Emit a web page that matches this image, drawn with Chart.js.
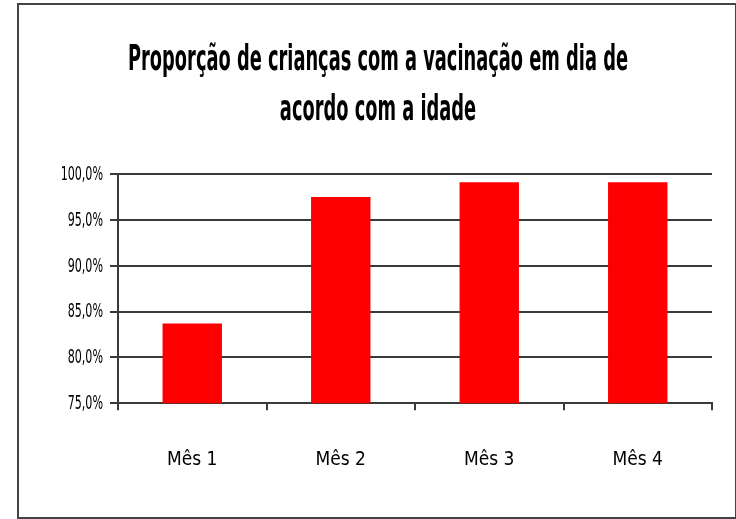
<!DOCTYPE html>
<html>
<head>
<meta charset="utf-8">
<script src="https://cdn.jsdelivr.net/npm/chart.js@4"></script>
<style>
  html, body { margin: 0; padding: 0; background: #fff; }
  #frame {
    position: absolute; left: 17px; top: 3px;
    width: 716px; height: 512px;
    border: 2px solid #444;
  }
  #myChart { display: block; }
</style>
</head>
<body>
<div id="frame"><canvas id="myChart" width="716" height="512"></canvas></div>
<script>
const months = ["Mês 1", "Mês 2", "Mês 3", "Mês 4"];
const vaccinated = [83.7, 97.5, 99.1, 99.1];
const titleLines = ["Proporção de crianças com a vacinação em dia de", "acordo com a idade"];
const yMin = 75, yMax = 100, yStep = 5;

const fontFamily = "'Liberation Sans Narrow', 'DejaVu Sans Condensed', 'Liberation Sans', sans-serif";

function pct(value) {
    return value.toFixed(1).replace('.', ',') + '%';
}

// the original uses a very condensed face, so title and y labels get squeezed sideways
const condensedText = {
    id: 'condensedText',
    afterDraw: function(chart) {
        const c = chart.ctx;
        c.save();
        c.fillStyle = "#000";
        c.textAlign = "center";
        c.textBaseline = "alphabetic";
        c.font = "bold 36px " + fontFamily;
        let sx = 0.55;
        c.scale(sx, 1);
        for (let i = 0; i < titleLines.length; i++) {
            c.fillText(titleLines[i], (chart.width / 2 + 1) / sx, 65 + i * 50);
        }
        c.restore();

        const yScale = chart.scales.y;
        c.save();
        c.fillStyle = "#000";
        c.textAlign = "right";
        c.textBaseline = "middle";
        c.font = "19px " + fontFamily;
        sx = 0.65;
        c.scale(sx, 1);
        yScale.ticks.forEach(function(t) {
            c.fillText(pct(t.value), (yScale.right - 15) / sx, yScale.getPixelForValue(t.value) + 1);
        });
        c.restore();
    }
};

const ctx = document.getElementById("myChart");
new Chart(ctx, {
    type: 'bar',
    data: {
        labels: months,
        datasets: [{
            data: vaccinated,
            backgroundColor: "#ff0000",
            borderWidth: 0,
            categoryPercentage: 1,
            barPercentage: 0.4
        }]
    },
    options: {
        responsive: false,
        animation: false,
        layout: { padding: { left: 0, right: 23, top: 169, bottom: 8 } },
        plugins: {
            legend: { display: false },
            tooltip: { enabled: false },
            title: { display: false }
        },
        scales: {
            y: {
                min: yMin,
                max: yMax,
                afterFit: (scale) => { scale.width = 99; },
                border: { color: "#3a3a3a", width: 2 },
                grid: { color: "#3a3a3a", lineWidth: 2, tickLength: 8 },
                ticks: {
                    stepSize: yStep,
                    display: false
                }
            },
            x: {
                border: { color: "#3a3a3a", width: 2 },
                grid: { drawOnChartArea: false, drawTicks: true, tickLength: 7, color: "#3a3a3a", lineWidth: 2, offset: true },
                ticks: {
                    padding: 38,
                    color: "#000",
                    font: { family: fontFamily, size: 19 }
                }
            }
        }
    },
    plugins: [condensedText]
});
</script>
</body>
</html>
